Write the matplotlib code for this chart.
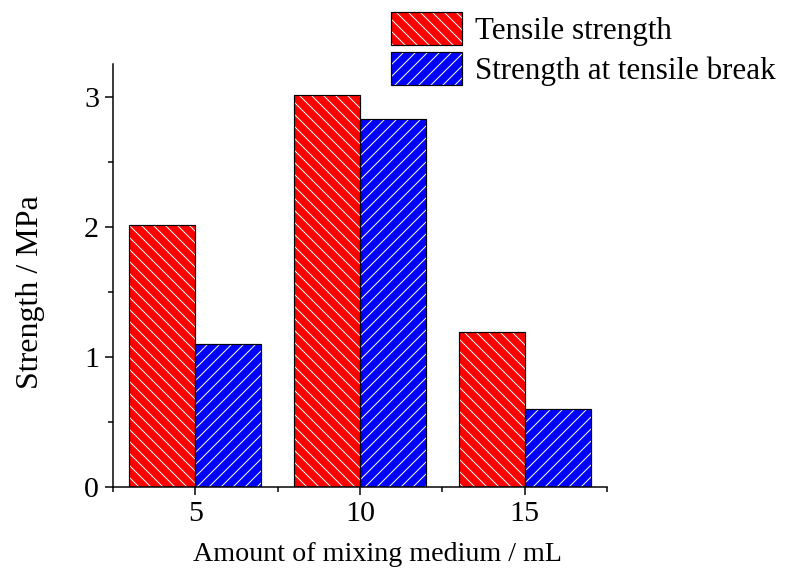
"""---------------------------------------------------------------------------------
#  Grouped bar chart : strength vs amount of mixing medium
#---------------------------------------------------------------------------------"""
import matplotlib
matplotlib.use("Agg")
import matplotlib.pyplot as plt
from matplotlib.patches import Patch
from matplotlib.ticker import MultipleLocator

# data
amounts = [5, 10, 15]
tensile_strength = [2.01, 3.01, 1.19]
break_strength = [1.10, 2.83, 0.60]
series_names = ["Tensile strength", "Strength at tensile break"]

plt.rcParams['font.family'] = ['Liberation Serif', 'DejaVu Serif']
plt.rcParams['hatch.linewidth'] = 1.0
plt.rcParams['hatch.color'] = 'white'

"""---------------------------------------------------------------------------------
#  Draws one bar series : white hatch first, then black outline on top
#---------------------------------------------------------------------------------"""
def drawBars(ax, x, values, color, hatch):
    ax.bar(x, values, width=2, align='edge', color=color, edgecolor='white',
           hatch=hatch, linewidth=0, zorder=2)
    ax.bar(x, values, width=2, align='edge', fill=False, edgecolor='black',
           linewidth=1.2, zorder=3)


def main():
    fig = plt.figure(figsize=(789/72, 572/72), dpi=72)
    ax = fig.add_axes([113/789, 1-487/572, (607-113)/789, (487-64)/572])

    red_x = [a - 2 for a in amounts]
    drawBars(ax, red_x, tensile_strength, '#ff0000', '\\\\')
    drawBars(ax, amounts, break_strength, '#0000ff', '//')

    ax.set_xlim(2.5, 17.5)
    ax.set_ylim(0, 3.25)
    ax.set_xticks(amounts)
    ax.xaxis.set_minor_locator(MultipleLocator(2.5))
    ax.yaxis.set_major_locator(MultipleLocator(1))
    ax.yaxis.set_minor_locator(MultipleLocator(0.5))

    for side in ['top', 'right']:
        ax.spines[side].set_visible(False)
    for side in ['left', 'bottom']:
        ax.spines[side].set_linewidth(1.5)

    ax.tick_params(which='major', direction='out', length=8, width=1.5,
                   labelsize=30, pad=6)
    ax.tick_params(which='minor', direction='out', length=5, width=1.5)

    ax.set_xlabel("Amount of mixing medium / mL", fontsize=28)
    ax.set_ylabel("Strength / MPa", fontsize=32)
    ax.xaxis.set_label_coords(0.536, -0.131)
    ax.yaxis.set_label_coords(-0.138, 0.46)

    handles = []
    for color, hatch in [('#ff0000', '\\\\'), ('#0000ff', '//')]:
        fillp = Patch(facecolor=color, edgecolor='white', hatch=hatch, linewidth=0)
        edgep = Patch(fill=False, edgecolor='black', linewidth=1.2)
        handles.append((fillp, edgep))

    fig.legend(handles, series_names, loc='upper left',
               bbox_to_anchor=(391/789, 1-12/572), frameon=False, fontsize=31,
               borderpad=0, borderaxespad=0, handlelength=2.3, handleheight=1.25,
               labelspacing=0.2, handletextpad=0.4)

    fig.savefig("out.png", dpi=72)


if __name__ == "__main__":
    main()
